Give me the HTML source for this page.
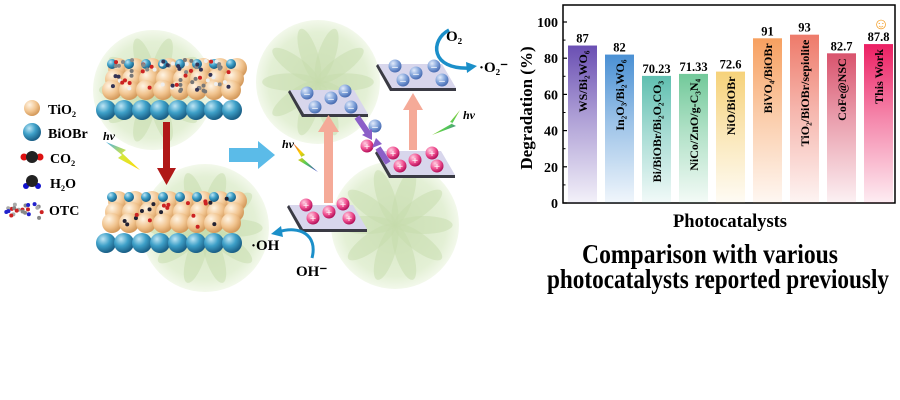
<!DOCTYPE html>
<html><head><meta charset="utf-8"><style>
html,body{margin:0;padding:0;background:#fff;width:900px;height:400px;overflow:hidden}
svg{display:block}
text{font-family:"Liberation Serif",serif;font-weight:bold}
</style></head><body>
<svg id="s" width="900" height="400" viewBox="0 0 900 400" xmlns="http://www.w3.org/2000/svg">
<defs>
<radialGradient id="gb" cx="0.35" cy="0.3" r="0.7"><stop offset="0" stop-color="#bfe6f5"/><stop offset="0.5" stop-color="#3ea0c8"/><stop offset="1" stop-color="#1a5f86"/></radialGradient>
<radialGradient id="gt" cx="0.35" cy="0.3" r="0.7"><stop offset="0" stop-color="#fff4e4"/><stop offset="0.6" stop-color="#f1c48f"/><stop offset="1" stop-color="#d49a5c"/></radialGradient>
<radialGradient id="ge" cx="0.35" cy="0.3" r="0.7"><stop offset="0" stop-color="#e3ecfb"/><stop offset="0.6" stop-color="#7c9fd8"/><stop offset="1" stop-color="#4a6db2"/></radialGradient>
<radialGradient id="gh" cx="0.35" cy="0.3" r="0.7"><stop offset="0" stop-color="#ffd0e2"/><stop offset="0.6" stop-color="#ef4d8f"/><stop offset="1" stop-color="#b5125b"/></radialGradient>
<radialGradient id="gg" cx="0.5" cy="0.5" r="0.5"><stop offset="0" stop-color="#d3e4bf"/><stop offset="0.8" stop-color="#e2efd3"/><stop offset="1" stop-color="#f2f8ea"/></radialGradient>
<linearGradient id="rb" x1="0" y1="0" x2="1" y2="1"><stop offset="0" stop-color="#d43"/><stop offset="0.3" stop-color="#fc0"/><stop offset="0.6" stop-color="#5c5"/><stop offset="1" stop-color="#33c"/></linearGradient>
<linearGradient id="lt" x1="0" y1="0" x2="1" y2="1"><stop offset="0" stop-color="#4ab0e8"/><stop offset="0.5" stop-color="#d8e83a"/><stop offset="1" stop-color="#ffd800"/></linearGradient>
</defs>
<g id="left"></g>
<g id="chart"></g>
</svg>
<script>
const NS="http://www.w3.org/2000/svg";
function el(p,t,a,txt){const e=document.createElementNS(NS,t);for(const k in a)e.setAttribute(k,a[k]);if(txt!==undefined)e.textContent=txt;p.appendChild(e);return e;}
const L=document.getElementById('left'),C=document.getElementById('chart');
[[153,90,60],[205,228,64],[318,82,62],[395,225,64]].forEach(b=>{el(L,'circle',{cx:b[0],cy:b[1],r:b[2],fill:'url(#gg)',opacity:0.95});
 for(let i=0;i<10;i++){const a=i*36*Math.PI/180;el(L,'ellipse',{cx:b[0]+Math.cos(a)*b[2]*0.45,cy:b[1]+Math.sin(a)*b[2]*0.45,rx:b[2]*0.45,ry:b[2]*0.14,transform:`rotate(${i*36} ${b[0]+Math.cos(a)*b[2]*0.45} ${b[1]+Math.sin(a)*b[2]*0.45})`,fill:'#c6dcab',opacity:0.5});}});
function slab(y0){
 for(let r=0;r<3;r++){const n=8;for(let c=0;c<n;c++){el(L,'circle',{cx:112+c*17+ (2-r)*3,cy:y0-4+r*11,r:10,fill:'url(#gt)'});}}
 for(let c=0;c<8;c++){el(L,'circle',{cx:112+c*17,cy:y0-8,r:5,fill:'url(#gb)'});}
 for(let c=0;c<8;c++){el(L,'circle',{cx:106+c*18,cy:y0+38,r:10,fill:'url(#gb)'});}
}
slab(72);slab(205);
for(let i=0;i<70;i++){const x=112+Math.random()*118,y=60+Math.random()*32;el(L,'circle',{cx:x,cy:y,r:2,fill:['#777','#c22','#888','#335','#eee'][i%5]});}
for(let i=0;i<20;i++){const x=120+Math.random()*110,y=198+Math.random()*30;el(L,'circle',{cx:x,cy:y,r:2,fill:i%2?'#c22':'#223'});}
el(L,'rect',{x:163,y:122,width:7,height:48,fill:'#b01818'});
el(L,'path',{d:'M157 168 L176 168 L166.5 185 Z',fill:'#b01818'});
el(L,'path',{d:'M106 142 L126 150 L122 153 L140 170 L118 158 L122 155 Z',fill:'url(#lt)'});
el(L,'text',{x:103,y:140,'font-size':12,'font-style':'italic'},'hv');
el(L,'path',{d:'M229 148 L258 148 L258 141 L275 155 L258 169 L258 162 L229 162 Z',fill:'#5bbbe8'});
el(L,'circle',{cx:32,cy:108,r:8,fill:'url(#gt)'});el(L,'text',{x:48,y:114,'font-size':14},'TiO₂');
el(L,'circle',{cx:32,cy:132,r:9,fill:'url(#gb)'});el(L,'text',{x:48,y:138,'font-size':14},'BiOBr');
el(L,'circle',{cx:24,cy:157,r:3.5,fill:'#d11'});el(L,'circle',{cx:40,cy:157,r:3.5,fill:'#d11'});el(L,'circle',{cx:32,cy:157,r:6,fill:'#222'});el(L,'text',{x:50,y:163,'font-size':14},'CO₂');
el(L,'circle',{cx:26,cy:186,r:3,fill:'#11c'});el(L,'circle',{cx:38,cy:186,r:3,fill:'#11c'});el(L,'circle',{cx:32,cy:181,r:6,fill:'#222'});el(L,'text',{x:50,y:188,'font-size':14},'H₂O');
for(let i=0;i<22;i++)el(L,'circle',{cx:6+Math.random()*36,cy:202+Math.random()*18,r:2,fill:['#888','#c22','#aaa','#22c'][i%4]});
el(L,'text',{x:49,y:215,'font-size':14},'OTC');
function plate(x,y,w){const h=24;el(L,'path',{d:`M${x} ${y} L${x+w} ${y} L${x+w+14} ${y+h} L${x+14} ${y+h} Z`,fill:'#d8d6ec'});
 el(L,'path',{d:`M${x} ${y} L${x+14} ${y+h} L${x+w+14} ${y+h} L${x+w+14} ${y+h+3} L${x+12} ${y+h+3} L${x-2} ${y+2}Z`,fill:'#3a3a44'});}
plate(290,90,64);plate(378,64,64);plate(377,151,64);plate(289,205,64);
function ch(x,y,p){el(L,'circle',{cx:x,cy:y,r:6.5,fill:p?'url(#gh)':'url(#ge)'});el(L,'text',{x:x,y:y+4,'font-size':11,'text-anchor':'middle',fill:'#fff'},p?'+':'–');}
[[307,93],[331,98],[345,91],[315,107],[351,107]].forEach(a=>ch(a[0],a[1],0));
[[395,66],[416,73],[434,66],[403,80],[442,80]].forEach(a=>ch(a[0],a[1],0));
[[393,153],[415,160],[432,153],[400,166],[437,166]].forEach(a=>ch(a[0],a[1],1));
[[306,205],[329,212],[343,204],[313,218],[349,218]].forEach(a=>ch(a[0],a[1],1));
ch(375,126,0);ch(367,146,1);
el(L,'rect',{x:324,y:130,width:9,height:73,fill:'#f5aa98'});el(L,'path',{d:'M318 132 L339 132 L328.5 115 Z',fill:'#f5aa98'});
el(L,'rect',{x:409,y:108,width:8,height:42,fill:'#f5aa98'});el(L,'path',{d:'M403 110 L423 110 L413 93 Z',fill:'#f5aa98'});
el(L,'path',{d:'M357 117 L368 133',stroke:'#8b5fc8','stroke-width':6});el(L,'path',{d:'M362 135 L372 129 L372 140Z',fill:'#8b5fc8'});
el(L,'path',{d:'M388 163 L378 148',stroke:'#8b5fc8','stroke-width':6});el(L,'path',{d:'M372 148 L382 144 L376 138Z',fill:'#8b5fc8'});
el(L,'path',{d:'M293 143 L305 155 L301 157 L318 172 L298 160 L302 158 Z',fill:'url(#rb)'});
el(L,'text',{x:282,y:148,'font-size':12,'font-style':'italic'},'hv');
el(L,'path',{d:'M460 110 L450 122 L453 123 L432 135 L456 126 L452 124 Z',fill:'url(#rb)'});
el(L,'text',{x:463,y:119,'font-size':12,'font-style':'italic'},'hv');
el(L,'path',{d:'M449 30 C430 40 430 70 470 68',stroke:'#1b8fc9','stroke-width':3.5,fill:'none'});
el(L,'path',{d:'M466 62 L477 66 L467 73Z',fill:'#1b8fc9'});
el(L,'text',{x:446,y:41,'font-size':15},'O₂');
el(L,'text',{x:479,y:72,'font-size':15},'·O₂⁻');
el(L,'path',{d:'M312 258 C318 235 300 225 278 232',stroke:'#1b8fc9','stroke-width':3,fill:'none'});
el(L,'path',{d:'M281 226 L271 234 L283 237Z',fill:'#1b8fc9'});
el(L,'text',{x:251,y:250,'font-size':15},'·OH');
el(L,'text',{x:296,y:276,'font-size':15},'OH⁻');
const X0=563,Y0=203,S=1.81;
el(C,'rect',{x:X0,y:5,width:332,height:Y0-5,fill:'none',stroke:'#000','stroke-width':1.5});
for(let v=0;v<=100;v+=20){const y=Y0-v*S;el(C,'line',{x1:X0,y1:y,x2:X0+4,y2:y,stroke:'#000','stroke-width':1.2});el(C,'text',{x:X0-5,y:y+5,'font-size':14,'text-anchor':'end'},v);}
for(let v=10;v<=100;v+=20){const y=Y0-v*S;el(C,'line',{x1:X0,y1:y,x2:X0+2.5,y2:y,stroke:'#000'});}
el(C,'text',{x:0,y:0,'font-size':17,'text-anchor':'middle',transform:'translate(532,108) rotate(-90)'},'Degradation (%)');
const bars=[[87,'#6a4fb3','87','WS/Bi₂WO₆'],[82,'#4a90d4','82','In₂O₃/Bi₂WO₆'],[70.23,'#5fbfb0','70.23','Bi/BiOBr/Bi₂O₂CO₃'],[71.33,'#72c99a','71.33','NiCo/ZnO/g-C₃N₄'],[72.6,'#f6d27a','72.6','NiO/BiOBr'],[91,'#f7a060','91','BiVO₄/BiOBr'],[93,'#ee7a6a','93','TiO₂/BiOBr/sepiolite'],[82.7,'#d9536d','82.7','CoFe@NSC'],[87.8,'#ec1f63','87.8','This Work']];
const defs=document.querySelector('defs');
bars.forEach((b,i)=>{const g=el(defs,'linearGradient',{id:'bg'+i,x1:0,y1:0,x2:0,y2:1});el(g,'stop',{offset:0,'stop-color':b[1]});el(g,'stop',{offset:0.45,'stop-color':b[1],'stop-opacity':0.55});el(g,'stop',{offset:1,'stop-color':b[1],'stop-opacity':0.08});
 const x=568+37*i,h=b[0]*S;el(C,'rect',{x:x,y:Y0-h,width:29,height:h,fill:`url(#bg${i})`});
 el(C,'text',{x:x+14.5,y:Y0-h-3,'font-size':12.5,'text-anchor':'middle'},b[2]);
 el(C,'text',{x:0,y:0,'font-size':12,'text-anchor':'end',transform:`translate(${x+19},${Y0-h+5}) rotate(-90)`},b[3]);});
el(C,'text',{x:881,y:29,'font-size':16,'text-anchor':'middle',fill:'#f39a1e','font-weight':'normal'},'☺');
el(C,'text',{x:730,y:227,'font-size':19,'text-anchor':'middle',textLength:114,lengthAdjust:'spacingAndGlyphs'},'Photocatalysts');
el(C,'text',{x:710,y:263,'font-size':27,'text-anchor':'middle',textLength:256,lengthAdjust:'spacingAndGlyphs'},'Comparison with various');
el(C,'text',{x:718,y:288,'font-size':27,'text-anchor':'middle',textLength:342,lengthAdjust:'spacingAndGlyphs'},'photocatalysts reported previously');
</script>
</body></html>
